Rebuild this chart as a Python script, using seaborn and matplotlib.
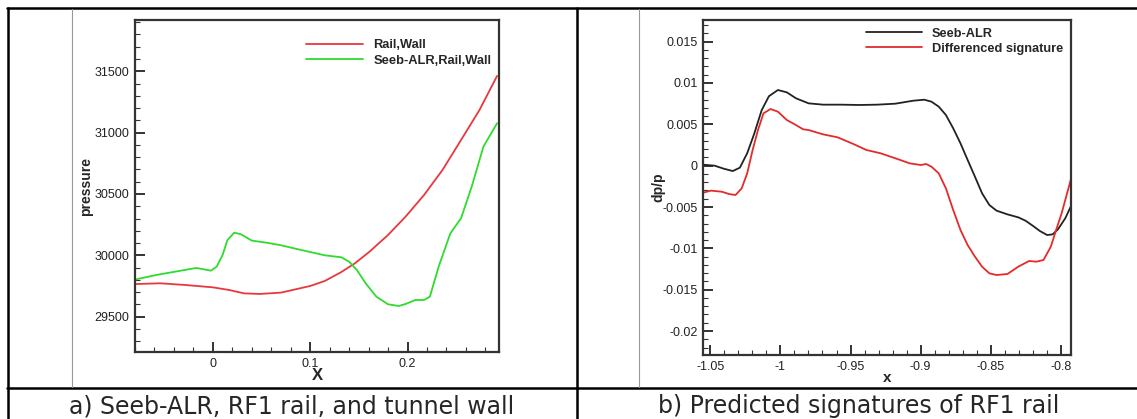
import pandas as pd
import matplotlib
matplotlib.use("Agg")
import matplotlib.pyplot as plt
import seaborn as sns
from matplotlib.lines import Line2D
from matplotlib.ticker import MultipleLocator, FuncFormatter

# a) pressure along x
rail_x = [-0.079, -0.054, -0.028, 0.0, 0.017, 0.032, 0.048, 0.070, 0.085, 0.100,
          0.115, 0.131, 0.146, 0.161, 0.180, 0.198, 0.217, 0.236, 0.255, 0.274, 0.292]
rail_p = [29766, 29772, 29758, 29739, 29717, 29690, 29685, 29696, 29723, 29750,
          29791, 29859, 29935, 30030, 30166, 30315, 30492, 30696, 30940, 31185, 31462]

seeb_x = [-0.079, -0.058, -0.035, -0.017, -0.002, 0.004, 0.010, 0.015, 0.022, 0.029,
          0.040, 0.055, 0.070, 0.085, 0.100, 0.115, 0.132, 0.140, 0.148, 0.157,
          0.168, 0.180, 0.191, 0.198, 0.208, 0.217, 0.223, 0.232, 0.244, 0.255,
          0.266, 0.278, 0.292]
seeb_p = [29804, 29840, 29872, 29897, 29875, 29908, 30003, 30125, 30185, 30171,
          30120, 30103, 30082, 30054, 30027, 30000, 29984, 29948, 29880, 29772,
          29663, 29601, 29587, 29603, 29636, 29636, 29663, 29908, 30179, 30302,
          30560, 30886, 31076]

# b) dp/p signatures
alr_x = [-1.0552, -1.0469, -1.0405, -1.0340, -1.0289, -1.0237, -1.0186, -1.0134, -1.0082,
         -1.0018, -0.9954, -0.9889, -0.9799, -0.9696, -0.9567, -0.9438, -0.9309, -0.9180,
         -0.9052, -0.8974, -0.8923, -0.8871, -0.8820, -0.8768, -0.8716, -0.8665, -0.8613,
         -0.8562, -0.8510, -0.8459, -0.8381, -0.8304, -0.8253, -0.8201, -0.8150, -0.8098,
         -0.8059, -0.8021, -0.7969, -0.7930]
alr_dp = [0.00012, 0.0, -0.00036, -0.00065, -0.00024, 0.0015, 0.0039, 0.0067, 0.0084,
          0.00915, 0.00887, 0.00815, 0.00754, 0.00738, 0.00738, 0.00734, 0.00738, 0.0075,
          0.00786, 0.00798, 0.00774, 0.00714, 0.00613, 0.00452, 0.0027, 0.00069, -0.00133,
          -0.00335, -0.00476, -0.00544, -0.00589, -0.00625, -0.00665, -0.00726, -0.0079,
          -0.00839, -0.00831, -0.0077, -0.00637, -0.00496]

diff_x = [-1.0552, -1.0495, -1.0418, -1.0366, -1.0320, -1.0276, -1.0237, -1.0198, -1.0160,
          -1.0121, -1.0070, -1.0018, -0.9954, -0.9902, -0.9838, -0.9799, -0.9696, -0.9593,
          -0.9490, -0.9387, -0.9284, -0.9180, -0.9077, -0.9000, -0.8961, -0.8923, -0.8871,
          -0.8820, -0.8768, -0.8716, -0.8665, -0.8613, -0.8562, -0.8510, -0.8459, -0.8381,
          -0.8304, -0.8227, -0.8175, -0.8124, -0.8072, -0.8034, -0.7995, -0.7956, -0.7930]
diff_dp = [-0.00327, -0.00302, -0.00315, -0.00343, -0.00355, -0.00274, -0.00093, 0.0019,
           0.00431, 0.00633, 0.00685, 0.00653, 0.00552, 0.00504, 0.0044, 0.00431, 0.00379,
           0.00343, 0.0027, 0.0019, 0.00149, 0.00089, 0.00028, 0.00008, 0.0002, -0.00012,
           -0.00093, -0.00274, -0.00536, -0.00778, -0.0096, -0.0110, -0.01222, -0.01302,
           -0.01323, -0.0131, -0.01222, -0.01153, -0.01161, -0.01141, -0.0098, -0.00778,
           -0.00577, -0.00335, -0.00173]

W, H = 1137, 419


def frac(x0, y0, x1, y1):
    # pixel box (top-left origin) -> figure fraction rect
    return [x0 / W, 1 - y1 / H, (x1 - x0) / W, (y1 - y0) / H]


def style_axes(ax):
    for side in ["top", "right", "left", "bottom"]:
        ax.spines[side].set_visible(True)
        ax.spines[side].set_color("#333333")
        ax.spines[side].set_linewidth(1.6)
    ax.tick_params(which="both", direction="in", top=False, right=False,
                   labelsize=9, colors="#333333", labelcolor="#222222")
    ax.tick_params(which="major", length=7, width=1.4, pad=4)
    ax.tick_params(which="minor", length=3.5, width=0.8)
    ax.grid(False)


def main():
    sns.set_theme(style="ticks")
    plt.rcParams["font.family"] = ["Liberation Sans", "DejaVu Sans"]
    plt.rcParams["axes.unicode_minus"] = False

    fig = plt.figure(figsize=(W / 100, H / 100), dpi=100)
    fmt = FuncFormatter(lambda v, p: "%g" % round(v, 6))

    # panel a
    ax1 = fig.add_axes(frac(135, 20, 499, 352))
    dfa = pd.concat([
        pd.DataFrame({"x": rail_x, "p": rail_p, "case": "Rail,Wall"}),
        pd.DataFrame({"x": seeb_x, "p": seeb_p, "case": "Seeb-ALR,Rail,Wall"}),
    ])
    sns.lineplot(data=dfa, x="x", y="p", hue="case", sort=False, estimator=None,
                 palette=["#e8383d", "#2edc2e"], linewidth=1.3, ax=ax1)
    ax1.set_xlim(-0.08, 0.294)
    ax1.set_ylim(29212, 31918)
    ax1.xaxis.set_major_locator(MultipleLocator(0.1))
    ax1.xaxis.set_minor_locator(MultipleLocator(0.02))
    ax1.yaxis.set_major_locator(MultipleLocator(500))
    ax1.yaxis.set_minor_locator(MultipleLocator(100))
    ax1.xaxis.set_major_formatter(fmt)
    style_axes(ax1)
    ax1.set_xlabel("X", fontsize=12, fontweight="bold", labelpad=-1)
    ax1.set_ylabel("pressure", fontsize=10, fontweight="bold", labelpad=1)
    ax1.legend(loc="upper right", bbox_to_anchor=(1.0, 0.965), frameon=False,
               prop={"weight": "bold", "size": 9.3}, handlelength=4.4,
               handletextpad=0.8, labelspacing=0.25, borderaxespad=0.2)

    # panel b
    ax2 = fig.add_axes(frac(703, 20, 1071, 355))
    dfb = pd.concat([
        pd.DataFrame({"x": alr_x, "dp": alr_dp, "case": "Seeb-ALR"}),
        pd.DataFrame({"x": diff_x, "dp": diff_dp, "case": "Differenced signature"}),
    ])
    sns.lineplot(data=dfb, x="x", y="dp", hue="case", sort=False, estimator=None,
                 palette=["#222222", "#e32b2b"], linewidth=1.3, ax=ax2)
    ax2.set_xlim(-1.0552, -0.7928)
    ax2.set_ylim(-0.0229, 0.01762)
    ax2.xaxis.set_major_locator(MultipleLocator(0.05))
    ax2.xaxis.set_minor_locator(MultipleLocator(0.01))
    ax2.yaxis.set_major_locator(MultipleLocator(0.005))
    ax2.yaxis.set_minor_locator(MultipleLocator(0.001))
    ax2.xaxis.set_major_formatter(fmt)
    ax2.yaxis.set_major_formatter(fmt)
    style_axes(ax2)
    ax2.set_xlabel("x", fontsize=11, fontweight="bold", labelpad=-1)
    ax2.set_ylabel("dp/p", fontsize=10, fontweight="bold", labelpad=-2)
    ax2.legend(loc="upper right", bbox_to_anchor=(1.0, 1.0), frameon=False,
               prop={"weight": "bold", "size": 9.2}, handlelength=4.4,
               handletextpad=0.8, labelspacing=0.25, borderaxespad=0.2)

    # table lines around the two figure cells
    def hline(y, x0, x1, lw=1.8, c="black"):
        fig.add_artist(Line2D([x0 / W, x1 / W], [1 - y / H, 1 - y / H], color=c, lw=lw))

    def vline(x, y0, y1, lw=1.8, c="black"):
        fig.add_artist(Line2D([x / W, x / W], [1 - y0 / H, 1 - y1 / H], color=c, lw=lw))

    hline(8.5, 7, W)
    hline(388, 7, W)
    vline(8, 8, H)
    vline(577, 8, H)
    vline(72, 9, 387, lw=0.8, c="#999999")
    vline(639, 9, 387, lw=0.8, c="#999999")

    fig.text(292 / W, 1 - 406 / H, "a) Seeb-ALR, RF1 rail, and tunnel wall",
             ha="center", va="center", fontsize=17, family="DejaVu Sans")
    fig.text(859 / W, 1 - 406 / H, "b) Predicted signatures of RF1 rail",
             ha="center", va="center", fontsize=17, family="DejaVu Sans")

    fig.savefig("out.png", dpi=100)
    plt.close(fig)


if __name__ == "__main__":
    main()
